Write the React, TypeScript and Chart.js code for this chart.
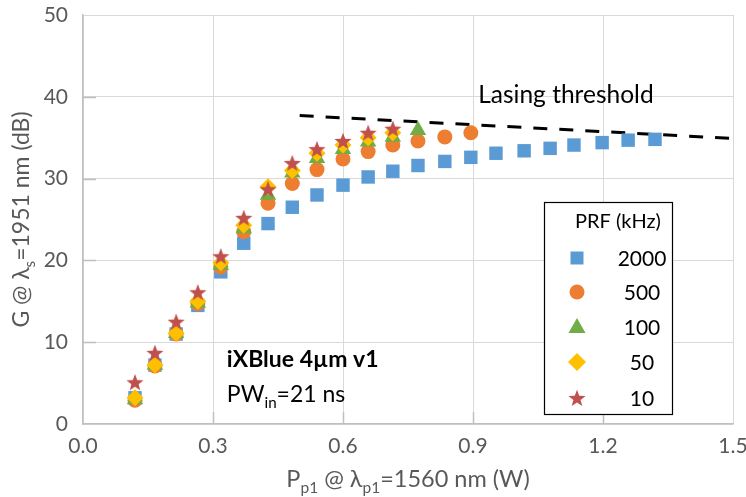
import React, { useEffect, useRef } from "react";
import { Chart, registerables } from "chart.js";
Chart.register(...registerables);

// Pump power (W)
const pumpPower = [0.12, 0.166, 0.215, 0.265, 0.318, 0.371, 0.427, 0.483, 0.54, 0.6, 0.658, 0.715, 0.773, 0.835, 0.895, 0.953, 1.018, 1.078, 1.133, 1.198, 1.258, 1.32];
// Gain (dB) per PRF
const gain2000 = [3.2, 7.2, 11.0, 14.5, 18.6, 22.1, 24.5, 26.5, 28.0, 29.2, 30.2, 30.9, 31.6, 32.1, 32.6, 33.1, 33.4, 33.7, 34.1, 34.4, 34.7, 34.8];
const gain500 = [2.9, 7.1, 11.0, 14.7, 19.2, 23.5, 27.0, 29.4, 31.1, 32.4, 33.3, 34.1, 34.6, 35.1, 35.6];
const gain100 = [3.0, 7.2, 11.1, 14.8, 19.4, 23.9, 28.0, 30.7, 32.5, 33.6, 34.5, 35.1, 35.9];
const gain50 = [3.2, 7.2, 11.1, 15.0, 19.7, 24.3, 29.0, 31.0, 33.1, 34.1, 35.0, 35.6];
const gain10 = [5.1, 8.7, 12.5, 16.1, 20.5, 25.2, 28.7, 31.9, 33.6, 34.6, 35.6, 36.1];
// Lasing threshold line
const thresholdPower = [0.5, 1.5];
const thresholdGain = [37.7, 34.9];

const prfLabels = ["2000", "500", "100", "50", "10"];
const legendTitle = "PRF (kHz)";
const thresholdLabel = "Lasing threshold";
const noteTitle = "iXBlue 4\u00B5m v1";

const colors = ["#5B9BD5", "#ED7D31", "#70AD47", "#FFC000", "#C0504D"];
const FONT = "Lato, 'DejaVu Sans', sans-serif";
const GREY = "#595959";

function toPoints(ys: number[]) {
  return ys.map((y, i) => ({ x: pumpPower[i], y }));
}

function makeStar(color: string, outer: number): HTMLCanvasElement {
  const c = document.createElement("canvas");
  const s = Math.ceil(outer * 2 + 2);
  c.width = s;
  c.height = s;
  const ctx = c.getContext("2d")!;
  const cx = s / 2, cy = s / 2 + 0.8;
  const inner = outer * 0.42;
  ctx.beginPath();
  for (let i = 0; i < 10; i++) {
    const r = i % 2 === 0 ? outer : inner;
    const a = -Math.PI / 2 + (i * Math.PI) / 5;
    const px = cx + r * Math.cos(a), py = cy + r * Math.sin(a);
    if (i === 0) ctx.moveTo(px, py); else ctx.lineTo(px, py);
  }
  ctx.closePath();
  ctx.fillStyle = color;
  ctx.fill();
  return c;
}

type Part = [string, boolean];
function drawRich(ctx: CanvasRenderingContext2D, parts: Part[], x: number, y: number, size: number, color: string, align: "left" | "center", weight = "normal") {
  const subSize = size * 0.66;
  let total = 0;
  const widths: number[] = [];
  for (const [t, sub] of parts) {
    ctx.font = `${weight} ${sub ? subSize : size}px ${FONT}`;
    const w = ctx.measureText(t).width;
    widths.push(w);
    total += w;
  }
  let cx = align === "center" ? x - total / 2 : x;
  ctx.fillStyle = color;
  ctx.textBaseline = "alphabetic";
  ctx.textAlign = "left";
  parts.forEach(([t, sub], i) => {
    ctx.font = `${weight} ${sub ? subSize : size}px ${FONT}`;
    ctx.fillText(t, cx, y + (sub ? size * 0.26 : 0));
    cx += widths[i];
  });
}

function drawMarker(ctx: CanvasRenderingContext2D, kind: number, x: number, y: number, star: HTMLCanvasElement) {
  ctx.fillStyle = colors[kind];
  ctx.beginPath();
  if (kind === 0) {
    ctx.rect(x - 6.5, y - 6.5, 13, 13);
  } else if (kind === 1) {
    ctx.arc(x, y, 7.5, 0, Math.PI * 2);
  } else if (kind === 2) {
    ctx.moveTo(x, y - 9);
    ctx.lineTo(x + 8.5, y + 6);
    ctx.lineTo(x - 8.5, y + 6);
    ctx.closePath();
  } else if (kind === 3) {
    ctx.moveTo(x, y - 9);
    ctx.lineTo(x + 9, y);
    ctx.lineTo(x, y + 9);
    ctx.lineTo(x - 9, y);
    ctx.closePath();
  } else {
    ctx.drawImage(star, x - star.width / 2, y - star.height / 2);
    return;
  }
  ctx.fill();
}

export default function App() {
  const ref = useRef<HTMLCanvasElement>(null);

  useEffect(() => {
    document.body.style.margin = "0";
    const star = makeStar(colors[4], 9);
    const legendStar = makeStar(colors[4], 9);

    const decor = {
      id: "decor",
      beforeDatasetsDraw(chart: any) {
        const ctx = chart.ctx as CanvasRenderingContext2D;
        const xs = chart.scales.x, ys = chart.scales.y;
        const a = chart.chartArea;
        ctx.save();
        ctx.strokeStyle = "#bfbfbf";
        ctx.lineWidth = 1.5;
        for (const v of [10, 20, 30, 40]) {
          const py = Math.round(ys.getPixelForValue(v)) + 0.5;
          ctx.beginPath();
          ctx.moveTo(a.left, py);
          ctx.lineTo(a.left + 13, py);
          ctx.stroke();
        }
        for (const v of [0.3, 0.6, 0.9, 1.2]) {
          const px = Math.round(xs.getPixelForValue(v)) + 0.5;
          ctx.beginPath();
          ctx.moveTo(px, a.bottom);
          ctx.lineTo(px, a.bottom - 12);
          ctx.stroke();
        }
        ctx.restore();
      },
      afterDraw(chart: any) {
        const ctx = chart.ctx as CanvasRenderingContext2D;
        const xs = chart.scales.x, ys = chart.scales.y;
        const a = chart.chartArea;
        ctx.save();
        // axis titles
        drawRich(ctx, [["P", false], ["p1", true], [" @ \u03BB", false], ["p1", true], ["=1560 nm (W)", false]], (a.left + a.right) / 2, 487, 23.5, GREY, "center");
        ctx.save();
        ctx.translate(29, (a.top + a.bottom) / 2);
        ctx.rotate(-Math.PI / 2);
        drawRich(ctx, [["G @ \u03BB", false], ["s", true], ["=1951 nm (dB)", false]], 0, 0, 23, GREY, "center");
        ctx.restore();

        // annotations
        drawRich(ctx, [[thresholdLabel, false]], xs.getPixelForValue(0.912), ys.getPixelForValue(39.25), 24.5, "#000", "left");
        drawRich(ctx, [[noteTitle, false]], xs.getPixelForValue(0.332), ys.getPixelForValue(6.97), 23, "#000", "left", "bold");
        drawRich(ctx, [["PW", false], ["in", true], ["=21 ns", false]], xs.getPixelForValue(0.332), ys.getPixelForValue(2.69), 23, "#000", "left");

        // legend
        const lx = a.right - 189, ly = a.bottom - 222, lw = 128, lh = 212;
        ctx.fillStyle = "#fff";
        ctx.fillRect(lx, ly, lw, lh);
        ctx.strokeStyle = "#000";
        ctx.lineWidth = 1.2;
        ctx.strokeRect(lx + 0.5, ly + 0.5, lw, lh);
        ctx.font = `20px ${FONT}`;
        ctx.fillStyle = "#000";
        ctx.textBaseline = "middle";
        ctx.textAlign = "center";
        ctx.fillText(legendTitle, lx + 74, ly + 20);
        const rows = [56, 90, 125, 160, 196];
        prfLabels.forEach((lab, i) => {
          const ry = ly + rows[i];
          drawMarker(ctx, i, lx + 33, ry, legendStar);
          ctx.font = `21px ${FONT}`;
          ctx.fillStyle = "#000";
          ctx.textAlign = "center";
          ctx.textBaseline = "middle";
          ctx.fillText(lab, lx + 98, ry + 1);
        });
        ctx.restore();
      },
    };

    const chart = new Chart(ref.current!, {
      type: "scatter",
      data: {
        datasets: [
          { label: prfLabels[0], data: toPoints(gain2000), pointStyle: "rect", pointRadius: 9.5, backgroundColor: colors[0], borderWidth: 0, order: 5 },
          { label: prfLabels[1], data: toPoints(gain500), pointStyle: "circle", pointRadius: 7.5, backgroundColor: colors[1], borderWidth: 0, order: 4 },
          { label: prfLabels[2], data: toPoints(gain100), pointStyle: "triangle", pointRadius: 9.5, backgroundColor: colors[2], borderWidth: 0, order: 3 },
          { label: prfLabels[3], data: toPoints(gain50), pointStyle: "rectRot", pointRadius: 8.5, backgroundColor: colors[3], borderWidth: 0, order: 2 },
          { label: prfLabels[4], data: toPoints(gain10), pointStyle: star as any, pointRadius: 9, backgroundColor: colors[4], borderWidth: 0, order: 1 },
          {
            label: thresholdLabel,
            data: thresholdPower.map((x, i) => ({ x, y: thresholdGain[i] })),
            showLine: true,
            pointRadius: 0,
            borderColor: "#000",
            borderWidth: 3,
            borderDash: [14, 12],
            order: 6,
          } as any,
        ],
      },
      options: {
        animation: false,
        responsive: true,
        maintainAspectRatio: false,
        layout: { padding: { top: 15, right: 13, left: 0, bottom: 0 } },
        plugins: { legend: { display: false }, tooltip: { enabled: false } },
        scales: {
          x: {
            type: "linear",
            min: 0,
            max: 1.5,
            ticks: { stepSize: 0.3, color: GREY, font: { family: FONT, size: 21 }, padding: 10, callback: (v: any) => Number(v).toFixed(1) },
            grid: { color: "#d9d9d9", drawTicks: false },
            border: { color: "#bfbfbf", width: 1.5 },
            afterFit: (s: any) => { s.height = 73; s.paddingLeft = 0; s.paddingRight = 0; s.paddingTop = 0; s.paddingBottom = 0; },
          },
          y: {
            type: "linear",
            min: 0,
            max: 50,
            ticks: { stepSize: 10, color: GREY, font: { family: FONT, size: 21 }, padding: 15 },
            grid: { color: "#d9d9d9", drawTicks: false },
            border: { color: "#bfbfbf", width: 1.5 },
            afterFit: (s: any) => { s.width = 83; s.paddingLeft = 0; s.paddingRight = 0; s.paddingTop = 0; s.paddingBottom = 0; },
          },
        },
      },
      plugins: [decor],
    });
    return () => chart.destroy();
  }, []);

  return (
    <div style={{ width: 746, height: 497, position: "relative" }}>
      <canvas ref={ref} />
    </div>
  );
}
